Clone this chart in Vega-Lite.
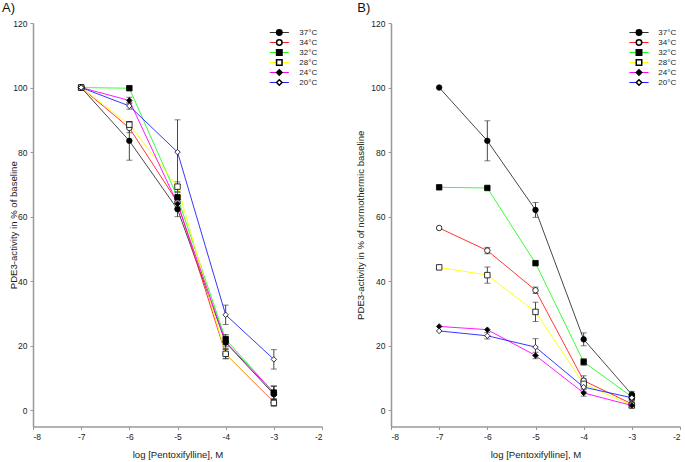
{
  "$schema": "https://vega.github.io/schema/vega-lite/v6.json",
  "padding": {"left": 2, "top": 2, "right": 0, "bottom": 0},
  "spacing": 32,
  "datasets": {
    "A": [
      {"log": -7, "temp": "37°C", "value": 100, "err": 0},
      {"log": -6, "temp": "37°C", "value": 83.5, "err": 6},
      {"log": -5, "temp": "37°C", "value": 62.3, "err": 2.3},
      {"log": -4, "temp": "37°C", "value": 21, "err": 2},
      {"log": -3, "temp": "37°C", "value": 5, "err": 2.5},
      {"log": -7, "temp": "34°C", "value": 100, "err": 0},
      {"log": -6, "temp": "34°C", "value": 87.5, "err": 1.5},
      {"log": -5, "temp": "34°C", "value": 64.5, "err": 1.5},
      {"log": -4, "temp": "34°C", "value": 17.5, "err": 1.5},
      {"log": -3, "temp": "34°C", "value": 2.5, "err": 1},
      {"log": -7, "temp": "32°C", "value": 100, "err": 0},
      {"log": -6, "temp": "32°C", "value": 99.8, "err": 0.5},
      {"log": -5, "temp": "32°C", "value": 66, "err": 1.5},
      {"log": -4, "temp": "32°C", "value": 22, "err": 1.5},
      {"log": -3, "temp": "32°C", "value": 5.5, "err": 2},
      {"log": -7, "temp": "28°C", "value": 100, "err": 0},
      {"log": -6, "temp": "28°C", "value": 88.5, "err": 1},
      {"log": -5, "temp": "28°C", "value": 69.3, "err": 1.5},
      {"log": -4, "temp": "28°C", "value": 17.5, "err": 1.5},
      {"log": -3, "temp": "28°C", "value": 2.3, "err": 1},
      {"log": -7, "temp": "24°C", "value": 100, "err": 0},
      {"log": -6, "temp": "24°C", "value": 96, "err": 1},
      {"log": -5, "temp": "24°C", "value": 64, "err": 1.5},
      {"log": -4, "temp": "24°C", "value": 21.2, "err": 1.5},
      {"log": -3, "temp": "24°C", "value": 5.5, "err": 2},
      {"log": -7, "temp": "20°C", "value": 100, "err": 0},
      {"log": -6, "temp": "20°C", "value": 94.3, "err": 1},
      {"log": -5, "temp": "20°C", "value": 80, "err": 10},
      {"log": -4, "temp": "20°C", "value": 29.6, "err": 3},
      {"log": -3, "temp": "20°C", "value": 15.8, "err": 3}
    ],
    "B": [
      {"log": -7, "temp": "37°C", "value": 100, "err": 0},
      {"log": -6, "temp": "37°C", "value": 83.5, "err": 6.2},
      {"log": -5, "temp": "37°C", "value": 62.1, "err": 2.3},
      {"log": -4, "temp": "37°C", "value": 22, "err": 2},
      {"log": -3, "temp": "37°C", "value": 4.9, "err": 1},
      {"log": -7, "temp": "34°C", "value": 56.5, "err": 0},
      {"log": -6, "temp": "34°C", "value": 49.5, "err": 1},
      {"log": -5, "temp": "34°C", "value": 37.2, "err": 1},
      {"log": -4, "temp": "34°C", "value": 9.2, "err": 1.5},
      {"log": -3, "temp": "34°C", "value": 2, "err": 1},
      {"log": -7, "temp": "32°C", "value": 69.1, "err": 0},
      {"log": -6, "temp": "32°C", "value": 68.9, "err": 0},
      {"log": -5, "temp": "32°C", "value": 45.6, "err": 0},
      {"log": -4, "temp": "32°C", "value": 15, "err": 1},
      {"log": -3, "temp": "32°C", "value": 4.2, "err": 1},
      {"log": -7, "temp": "28°C", "value": 44.3, "err": 0},
      {"log": -6, "temp": "28°C", "value": 41.9, "err": 2.5},
      {"log": -5, "temp": "28°C", "value": 30.5, "err": 3},
      {"log": -4, "temp": "28°C", "value": 8.2, "err": 1.5},
      {"log": -3, "temp": "28°C", "value": 1.5, "err": 0.5},
      {"log": -7, "temp": "24°C", "value": 26, "err": 0},
      {"log": -6, "temp": "24°C", "value": 25, "err": 0},
      {"log": -5, "temp": "24°C", "value": 17, "err": 1},
      {"log": -4, "temp": "24°C", "value": 5.4, "err": 1},
      {"log": -3, "temp": "24°C", "value": 1.5, "err": 0.5},
      {"log": -7, "temp": "20°C", "value": 24.6, "err": 0},
      {"log": -6, "temp": "20°C", "value": 23.1, "err": 1},
      {"log": -5, "temp": "20°C", "value": 19.6, "err": 2.6},
      {"log": -4, "temp": "20°C", "value": 7.2, "err": 1.5},
      {"log": -3, "temp": "20°C", "value": 3.9, "err": 1}
    ]
  },
  "hconcat": [
    {
      "title": {"text": "A)", "anchor": "start", "frame": "bounds", "fontSize": 13, "fontWeight": "normal", "font": "Liberation Sans", "color": "#111", "offset": 4, "dx": -6},
      "width": 289,
      "height": 403.5,
      "data": {"name": "A"},
      "encoding": {
        "x": {"field": "log", "type": "quantitative", "scale": {"domain": [-8, -2], "nice": false}, "axis": {"values": [-8, -7, -6, -5, -4, -3, -2], "labelExpr": "datum.value + ''", "title": "log [Pentoxifylline], M"}},
        "y": {"field": "value", "type": "quantitative", "scale": {"domain": [-5, 120], "nice": false, "zero": false}, "axis": {"values": [0, 20, 40, 60, 80, 100, 120], "title": "PDE3-activity in % of baseline", "titlePadding": -5.3}}
      },
      "layer": [
        {
          "mark": {"type": "line", "strokeWidth": 0.9},
          "encoding": {
            "stroke": {"field": "temp", "type": "nominal", "sort": "descending", "scale": {"range": ["#333333", "#ff2020", "#20ff20", "#ffff00", "#ff00ff", "#2020ff"]},
              "legend": {"orient": "none", "legendX": 236.3, "legendY": 4.75, "title": null, "symbolType": "M-3.5,0H-1M1,0H3.5", "symbolSize": 30, "symbolOffset": 6, "symbolStrokeWidth": 1, "labelOpacity": 0, "labelFontSize": 8, "labelFont": "Liberation Sans", "labelOffset": 16, "rowPadding": 0, "clipHeight": 9.5, "padding": 0,
                "encode": {"symbols": {"update": {"size": {"value": 30}, "strokeWidth": {"value": 1}}}}}}
          }
        },
        {
          "transform": [{"filter": "datum.err > 0"}],
          "mark": {"type": "errorbar", "color": "#333333", "thickness": 0.9, "ticks": {"size": 6, "thickness": 0.9, "color": "#333333"}},
          "encoding": {"yError": {"field": "err"}}
        },
        {
          "mark": {"type": "point", "filled": true, "stroke": "black", "strokeWidth": 0.8, "size": 30, "opacity": 1},
          "encoding": {
            "fill": {"field": "temp", "type": "nominal", "scale": {"domain": ["37°C", "34°C", "32°C", "28°C", "24°C", "20°C"], "range": ["black", "white", "black", "white", "black", "white"]},
              "legend": {"orient": "none", "legendX": 236.3, "legendY": 4.75, "title": null, "symbolSize": 30, "symbolOffset": 6, "labelFontSize": 8, "labelFont": "Liberation Sans", "labelColor": "#222", "labelOffset": 16, "rowPadding": 0, "clipHeight": 9.5, "padding": 0,
                "encode": {"symbols": {"update": {"size": {"value": 30}, "stroke": {"value": "black"}, "strokeWidth": {"value": 0.8}, "opacity": {"value": 1}}}}}},
            "shape": {"field": "temp", "type": "nominal", "scale": {"domain": ["37°C", "34°C", "32°C", "28°C", "24°C", "20°C"], "range": ["circle", "circle", "square", "square", "diamond", "diamond"]},
              "legend": {"orient": "none", "legendX": 236.3, "legendY": 4.75, "title": null, "symbolSize": 30, "symbolOffset": 6, "labelFontSize": 8, "labelFont": "Liberation Sans", "labelColor": "#222", "labelOffset": 16, "rowPadding": 0, "clipHeight": 9.5, "padding": 0,
                "encode": {"symbols": {"update": {"size": {"value": 30}, "stroke": {"value": "black"}, "strokeWidth": {"value": 0.8}, "opacity": {"value": 1}}}}}}
          }
        }
      ]
    },
    {
      "title": {"text": "B)", "anchor": "start", "frame": "bounds", "fontSize": 13, "fontWeight": "normal", "font": "Liberation Sans", "color": "#111", "offset": 4, "dx": 2},
      "width": 289,
      "height": 403.5,
      "data": {"name": "B"},
      "encoding": {
        "x": {"field": "log", "type": "quantitative", "scale": {"domain": [-8, -2], "nice": false}, "axis": {"values": [-8, -7, -6, -5, -4, -3, -2], "labelExpr": "datum.value + ''", "title": "log [Pentoxifylline], M"}},
        "y": {"field": "value", "type": "quantitative", "scale": {"domain": [-5, 120], "nice": false, "zero": false}, "axis": {"values": [0, 20, 40, 60, 80, 100, 120], "title": "PDE3-activity in % of normothermic baseline", "titlePadding": 5.5}}
      },
      "layer": [
        {
          "mark": {"type": "line", "strokeWidth": 0.9},
          "encoding": {
            "stroke": {"field": "temp", "type": "nominal", "sort": "descending", "scale": {"range": ["#333333", "#ff2020", "#20ff20", "#ffff00", "#ff00ff", "#2020ff"]},
              "legend": {"orient": "none", "legendX": 238, "legendY": 4.75, "title": null, "symbolType": "M-3.5,0H-1M1,0H3.5", "symbolSize": 30, "symbolOffset": 6, "symbolStrokeWidth": 1, "labelOpacity": 0, "labelFontSize": 8, "labelFont": "Liberation Sans", "labelOffset": 15.3, "rowPadding": 0, "clipHeight": 9.5, "padding": 0,
                "encode": {"symbols": {"update": {"size": {"value": 30}, "strokeWidth": {"value": 1}}}}}}
          }
        },
        {
          "transform": [{"filter": "datum.err > 0"}],
          "mark": {"type": "errorbar", "color": "#333333", "thickness": 0.9, "ticks": {"size": 6, "thickness": 0.9, "color": "#333333"}},
          "encoding": {"yError": {"field": "err"}}
        },
        {
          "mark": {"type": "point", "filled": true, "stroke": "black", "strokeWidth": 0.8, "size": 30, "opacity": 1},
          "encoding": {
            "fill": {"field": "temp", "type": "nominal", "scale": {"domain": ["37°C", "34°C", "32°C", "28°C", "24°C", "20°C"], "range": ["black", "white", "black", "white", "black", "white"]},
              "legend": {"orient": "none", "legendX": 238, "legendY": 4.75, "title": null, "symbolSize": 30, "symbolOffset": 6, "labelFontSize": 8, "labelFont": "Liberation Sans", "labelColor": "#222", "labelOffset": 15.3, "rowPadding": 0, "clipHeight": 9.5, "padding": 0,
                "encode": {"symbols": {"update": {"size": {"value": 30}, "stroke": {"value": "black"}, "strokeWidth": {"value": 0.8}, "opacity": {"value": 1}}}}}},
            "shape": {"field": "temp", "type": "nominal", "scale": {"domain": ["37°C", "34°C", "32°C", "28°C", "24°C", "20°C"], "range": ["circle", "circle", "square", "square", "diamond", "diamond"]},
              "legend": {"orient": "none", "legendX": 238, "legendY": 4.75, "title": null, "symbolSize": 30, "symbolOffset": 6, "labelFontSize": 8, "labelFont": "Liberation Sans", "labelColor": "#222", "labelOffset": 15.3, "rowPadding": 0, "clipHeight": 9.5, "padding": 0,
                "encode": {"symbols": {"update": {"size": {"value": 30}, "stroke": {"value": "black"}, "strokeWidth": {"value": 0.8}, "opacity": {"value": 1}}}}}}
          }
        }
      ]
    }
  ],
  "resolve": {
    "scale": {"x": "independent", "y": "independent", "stroke": "independent", "fill": "independent", "shape": "independent"},
    "legend": {"stroke": "independent", "fill": "independent", "shape": "independent"}
  },
  "config": {
    "view": {"stroke": null},
    "axis": {"grid": false, "domainColor": "#999999", "domainWidth": 1.5, "tickColor": "#999999", "tickSize": 3, "tickWidth": 1, "labelFont": "Liberation Sans", "labelFontSize": 8.5, "labelColor": "#222222", "labelPadding": 3, "titleFont": "Liberation Sans", "titleFontSize": 9.6, "titleFontWeight": "normal", "titleColor": "#222222"},
    "axisX": {"titlePadding": 8.5}
  }
}
